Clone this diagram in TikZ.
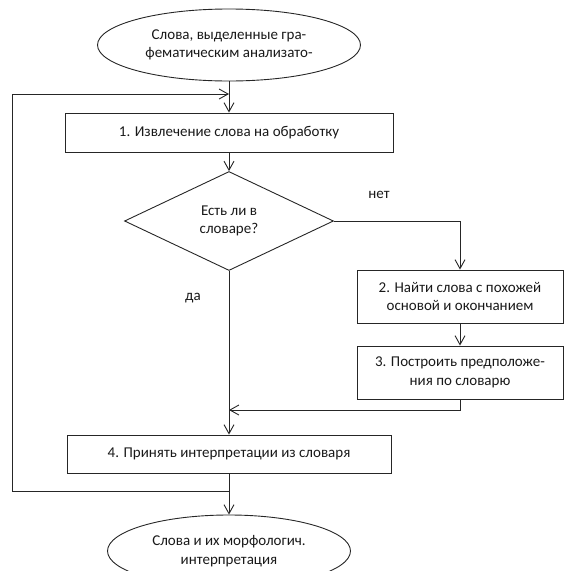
\documentclass[tikz,border=0pt]{standalone}
\usepackage{fontspec}
\setmainfont{Carlito}
\usetikzlibrary{arrows.meta,shapes.geometric}
\tikzset{
  base/.style={draw=black!85, line width=0.9pt, align=center, inner sep=0pt,
               font=\fontsize{15}{18.5}\selectfont, text=black!90},
  ell/.style={base, ellipse},
  boxnode/.style={base, rectangle},
  dia/.style={base, diamond, aspect=2.1},
  arr/.style={draw=black!85, line width=0.9pt, -{Straight Barb[length=9pt,width=10pt,line width=0.9pt]}},
  ln/.style={draw=black!85, line width=0.9pt},
  lbl/.style={font=\fontsize{15}{18.5}\selectfont, text=black!90, inner sep=0pt}
}
\begin{document}
\begin{tikzpicture}[x=1pt,y=-1pt]
\useasboundingbox (0,0) rectangle (571,571);
\node[ell, minimum width=263pt, minimum height=72pt] (start) at (229,45) {Слова, выделенные гра-\\фематическим анализато-};
\node[boxnode, minimum width=328pt, minimum height=39pt] (b1) at (229,132.5) {1. Извлечение слова на обработку};
\node[dia, minimum width=209pt, minimum height=99pt] (d) at (229,221) {Есть ли в\\словаре?};
\node[boxnode, minimum width=206pt, minimum height=53pt] (b2) at (460,296.5) {2. Найти слова с похожей\\основой и окончанием};
\node[boxnode, minimum width=206pt, minimum height=53pt] (b3) at (460,372.5) {3. Построить предположе-\\ния по словарю};
\node[boxnode, minimum width=324pt, minimum height=38pt] (b4) at (229,454) {4. Принять интерпретации из словаря};
\node[ell, minimum width=243pt, minimum height=72pt] (end) at (229,551) {Слова и их морфологич.\\интерпретация};
\node[lbl] (no) at (379,195) {нет};
\node[lbl] (yes) at (193,298) {да};
\coordinate (j1) at (229,94);
\coordinate (j2) at (229,410);
\coordinate (fb) at (229,491);
\coordinate (lft) at (12,491);
\draw[arr] (start.south) -- (b1.north);
\draw[arr] (b1.south) -- (d.north);
\draw[arr] (d.east) -| (b2.north);
\draw[arr] (b2.south) -- (b3.north);
\draw[arr] (b3.south) |- (j2);
\draw[arr] (d.south) -- (b4.north);
\draw[arr] (b4.south) -- (end.north);
\draw[arr] (fb) -- (lft) |- (j1);
\end{tikzpicture}
\end{document}
